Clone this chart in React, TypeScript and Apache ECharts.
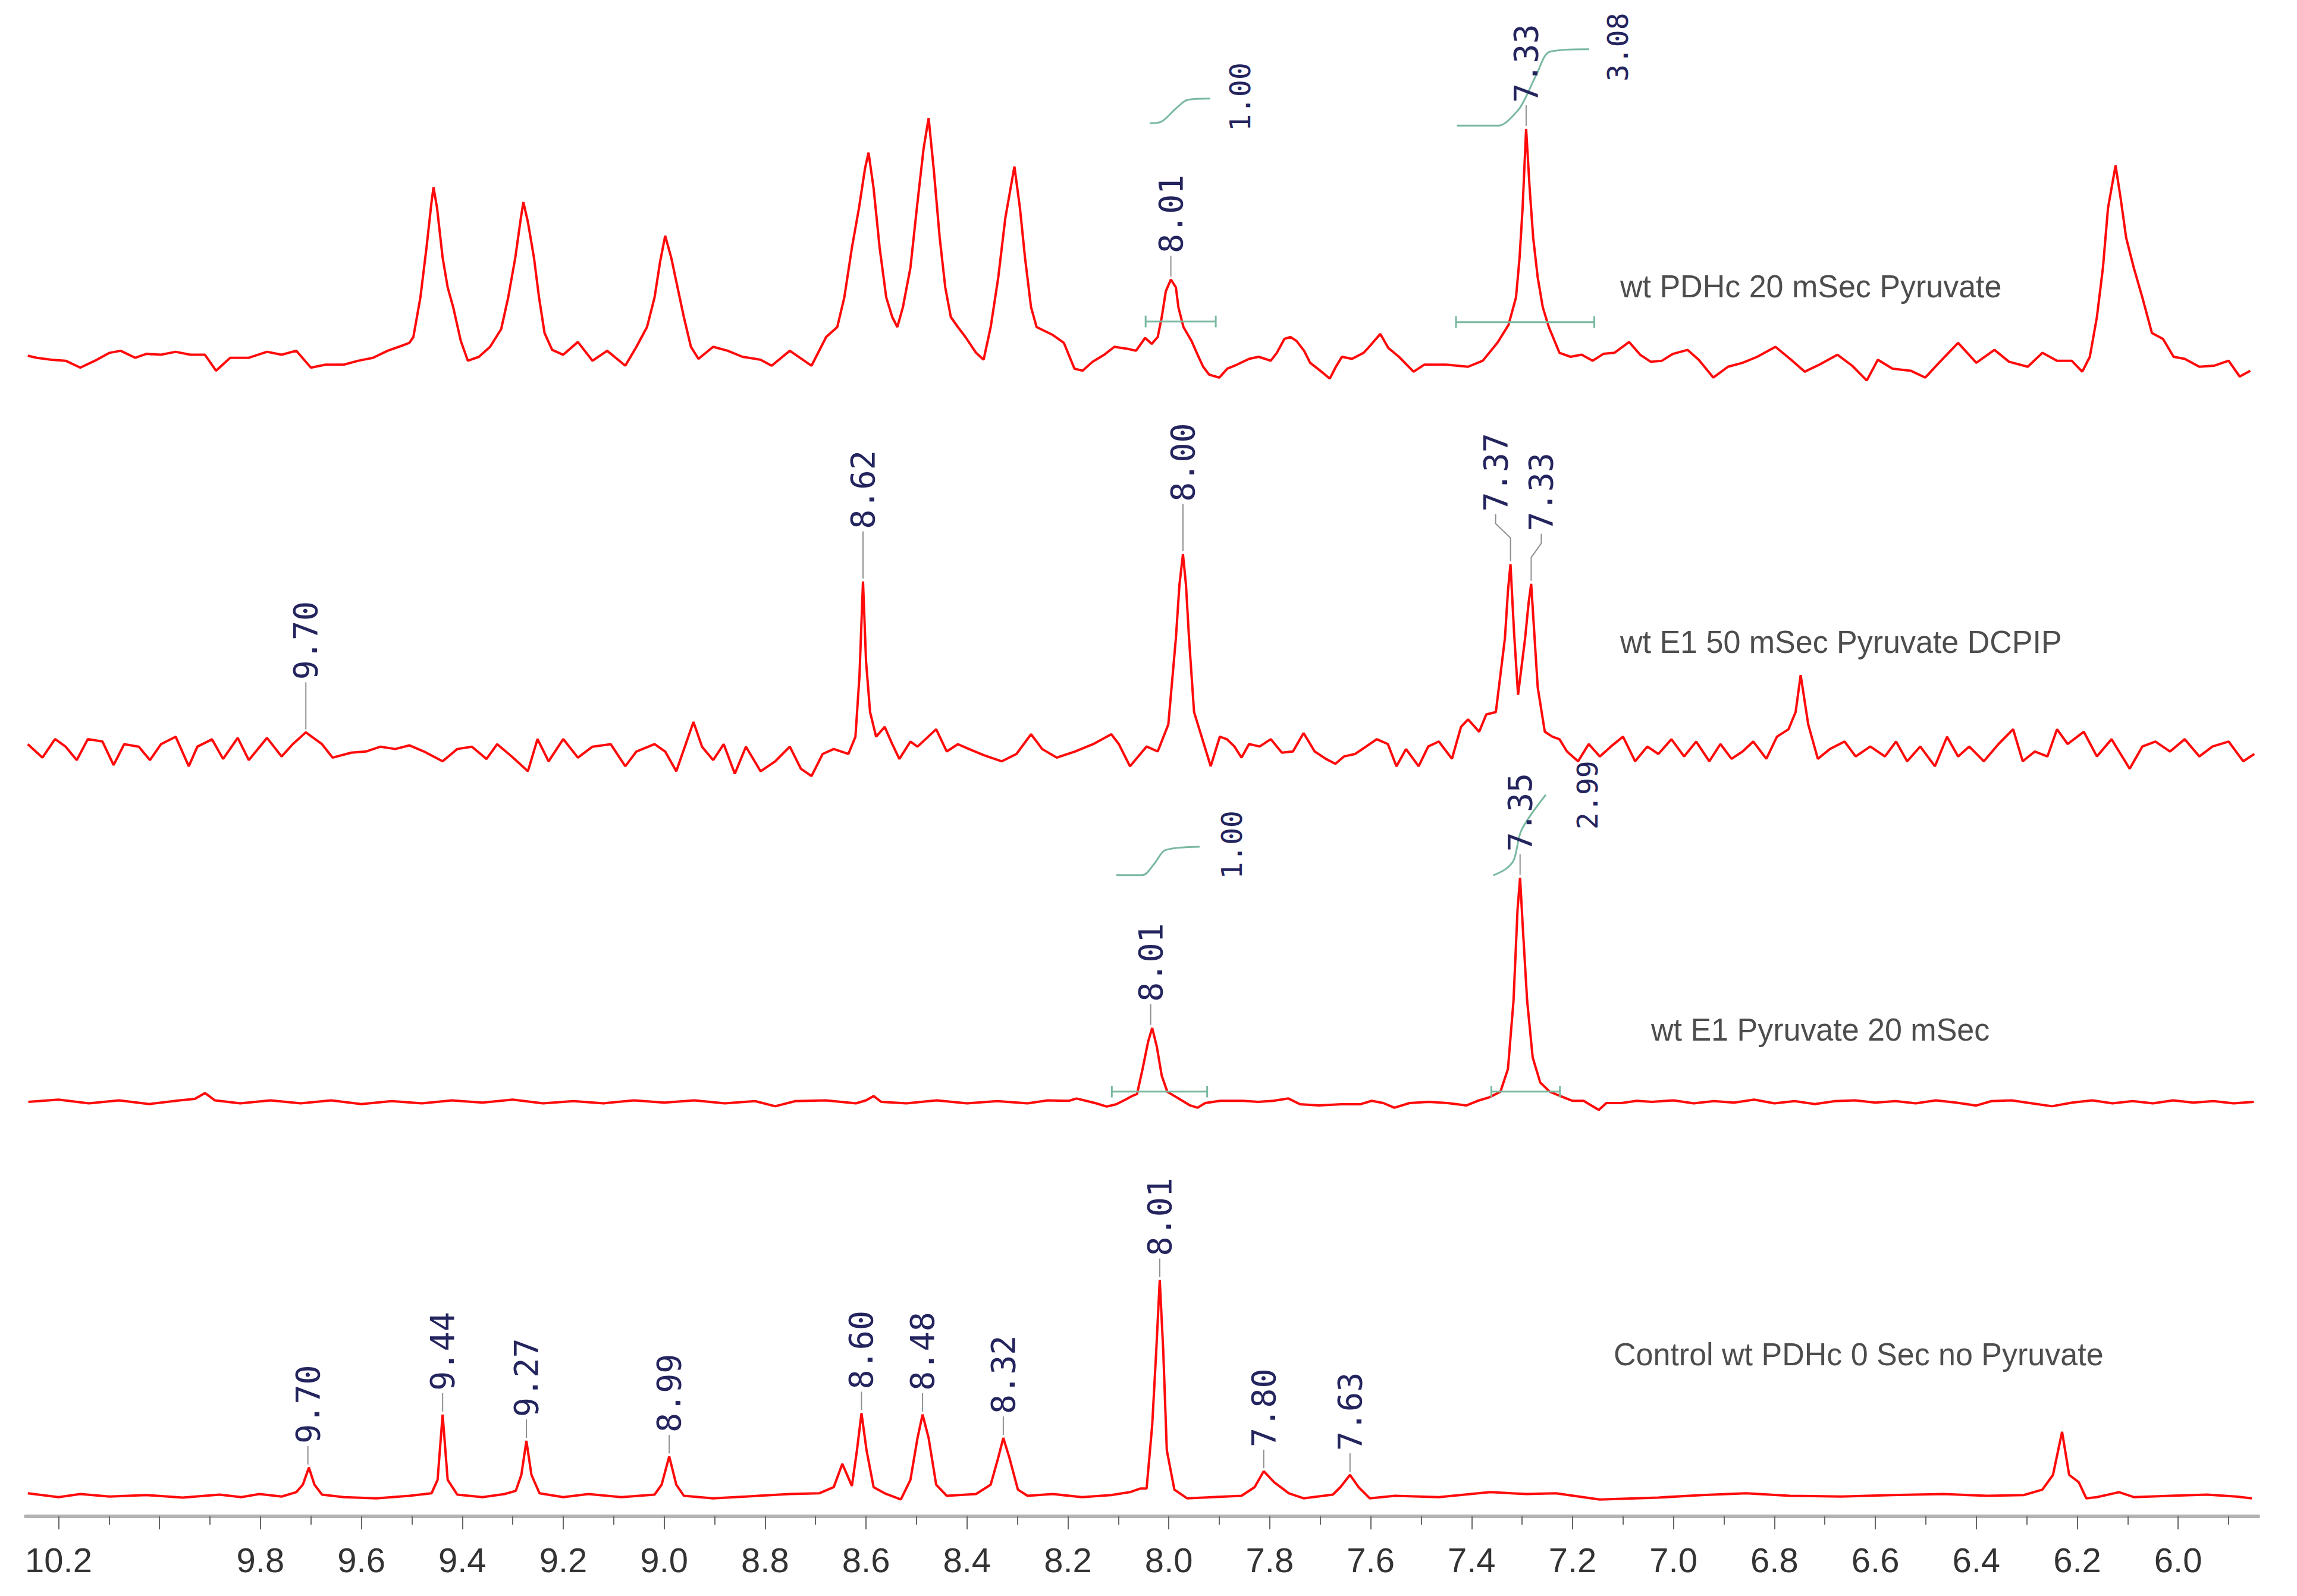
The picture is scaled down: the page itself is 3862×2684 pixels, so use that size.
import React, { useEffect, useRef } from 'react';
import * as echarts from 'echarts';

type Pt = [number, number];
type PeakLabel = [string, number, number]; // text, ppm, peak height

// ---------------- axis ----------------
const PPM_MAX = 10.2654;
const PPM_MIN = 5.8411;
const majorTicks = [10.2, 10.0, 9.8, 9.6, 9.4, 9.2, 9.0, 8.8, 8.6, 8.4, 8.2, 8.0, 7.8, 7.6, 7.4, 7.2, 7.0, 6.8, 6.6, 6.4, 6.2, 6.0];
const minorTicks = [10.1, 9.9, 9.7, 9.5, 9.3, 9.1, 8.9, 8.7, 8.5, 8.3, 8.1, 7.9, 7.7, 7.5, 7.3, 7.1, 6.9, 6.7, 6.5, 6.3, 6.1, 5.9];
const tickLabels = [10.2, 9.8, 9.6, 9.4, 9.2, 9.0, 8.8, 8.6, 8.4, 8.2, 8.0, 7.8, 7.6, 7.4, 7.2, 7.0, 6.8, 6.6, 6.4, 6.2, 6.0];

const traceTitles = [
  'wt PDHc 20 mSec Pyruvate',
  'wt E1 50 mSec Pyruvate DCPIP',
  'wt E1 Pyruvate 20 mSec',
  'Control wt PDHc 0 Sec no Pyruvate',
];

// ---------------- spectra: [ppm, intensity] ----------------
const spectrumPDHc20: Pt[] = [
  [10.261,0.7],[10.243,-0.7],[10.214,-2.0],[10.186,-2.7],[10.157,-7.4],[10.128,-2.7],[10.099,2.7],[10.077,4.1],[10.048,-0.7],[10.026,2.0],[9.997,1.4],[9.968,3.4],[9.939,1.4],[9.910,1.4],[9.888,-9.5],[9.860,-0.7],[9.823,-0.7],[9.787,3.4],[9.758,1.4],[9.729,4.1],[9.700,-7.4],[9.671,-5.4],[9.635,-5.4],[9.606,-2.7],[9.577,-0.7],[9.548,4.1],[9.526,6.8],[9.505,9.5],[9.497,13.5],[9.483,40.6],[9.471,74.4],[9.461,105.6],[9.457,115.7],[9.450,101.5],[9.439,67.7],[9.429,47.4],[9.418,33.8],[9.403,10.8],[9.389,-2.7],[9.367,0],[9.345,6.8],[9.323,18.9],[9.309,40.6],[9.295,67.7],[9.284,94.7],[9.279,105.6],[9.270,92],[9.258,67.7],[9.248,40.6],[9.237,16.2],[9.222,4.7],[9.200,1.4],[9.171,10.1],[9.142,-2.7],[9.113,4.1],[9.077,-6.1],[9.055,6.8],[9.034,20.3],[9.019,40.6],[9.008,65],[8.998,82.6],[8.986,67.7],[8.976,51.4],[8.961,27.1],[8.947,6.8],[8.932,-1.4],[8.903,6.8],[8.874,4.1],[8.845,0],[8.809,-2.0],[8.787,-6.1],[8.751,4.1],[8.708,-6.1],[8.679,13.5],[8.657,20.3],[8.643,40.6],[8.628,74.4],[8.614,101.5],[8.602,128.6],[8.595,139.4],[8.585,115],[8.573,74.4],[8.560,40.6],[8.548,27.1],[8.538,20.3],[8.527,33.8],[8.512,60.9],[8.498,105.6],[8.486,142],[8.476,163],[8.466,128.6],[8.454,81.2],[8.443,47.4],[8.432,27.1],[8.418,20.3],[8.403,13.5],[8.382,2.7],[8.367,-2.0],[8.353,20.3],[8.338,54.1],[8.324,94.7],[8.306,129.9],[8.295,101.5],[8.285,67.7],[8.273,33.8],[8.262,20.3],[8.230,14.9],[8.208,9.5],[8.187,-8.1],[8.171,-9.5],[8.151,-3.4],[8.128,1.4],[8.108,6.8],[8.081,5.4],[8.065,4.1],[8.047,12.9],[8.034,8.8],[8.022,13.5],[8.014,27.1],[8.006,44.7],[7.996,52.8],[7.986,47.4],[7.981,33.8],[7.971,20.3],[7.955,10.8],[7.943,1.4],[7.932,-6.8],[7.920,-12.2],[7.900,-14.2],[7.884,-8.1],[7.865,-5.4],[7.841,-1.4],[7.822,0],[7.798,-2.7],[7.786,2.7],[7.771,12.2],[7.759,13.5],[7.747,10.8],[7.732,4.1],[7.720,-4.1],[7.700,-9.5],[7.681,-14.9],[7.669,-6.8],[7.657,0],[7.637,-1.4],[7.614,2.7],[7.600,8],[7.581,15.6],[7.565,6],[7.544,0],[7.515,-10.2],[7.494,-5.4],[7.450,-5.4],[7.407,-6.8],[7.378,-2.7],[7.349,9.5],[7.327,21.7],[7.312,40.6],[7.305,67.7],[7.299,101.5],[7.292,155.6],[7.285,115],[7.278,81.2],[7.269,54.1],[7.259,33.8],[7.247,20.3],[7.226,2.7],[7.204,0],[7.182,1.4],[7.160,-2.7],[7.139,2.0],[7.117,2.7],[7.088,10.1],[7.066,1.4],[7.045,-3.4],[7.023,-2.7],[7.001,2.0],[6.972,4.7],[6.950,-2.0],[6.921,-14.2],[6.892,-6.8],[6.863,-4.1],[6.834,0],[6.798,6.8],[6.769,-1.4],[6.740,-10.2],[6.711,-5.4],[6.675,1.4],[6.646,-6.1],[6.617,-16.2],[6.595,-2.0],[6.566,-8.1],[6.530,-9.5],[6.501,-14.2],[6.472,-3.4],[6.436,9.5],[6.400,-4.1],[6.364,4.7],[6.335,-3.4],[6.298,-6.8],[6.269,2.7],[6.240,-2.7],[6.211,-2.7],[6.190,-10.2],[6.175,0],[6.161,27.1],[6.149,60.9],[6.139,101.5],[6.124,130.6],[6.114,108.3],[6.103,81.2],[6.088,60.9],[6.071,40.6],[6.052,16.2],[6.030,12.2],[6.009,0],[5.987,-1.4],[5.958,-6.8],[5.929,-6.1],[5.900,-2.7],[5.878,-13.5],[5.857,-9.5],
];

const spectrumE1DCPIP: Pt[] = [
  [10.261,3.3],[10.232,-5.9],[10.207,6.8],[10.186,1.6],[10.164,-7.6],[10.142,6.8],[10.113,5.1],[10.091,-11.0],[10.070,3.3],[10.041,1.6],[10.019,-7.6],[9.997,3.3],[9.968,8.4],[9.942,-11.8],[9.925,1.6],[9.896,6.6],[9.874,-6.8],[9.845,7.6],[9.823,-7.6],[9.787,7.6],[9.758,-5.1],[9.736,3.3],[9.710,11.4],[9.678,3.3],[9.657,-5.9],[9.620,-2.5],[9.591,-1.7],[9.562,1.6],[9.533,0],[9.505,2.5],[9.476,-1.7],[9.439,-8.4],[9.410,0],[9.381,1.6],[9.352,-6.8],[9.331,3.3],[9.302,-5.1],[9.270,-15.2],[9.251,6.8],[9.229,-8.4],[9.200,6.8],[9.171,-5.9],[9.142,1.6],[9.106,3.3],[9.077,-11.8],[9.055,-1.7],[9.019,3.3],[8.998,-1.7],[8.976,-15.2],[8.942,18.5],[8.925,1.6],[8.903,-7.6],[8.882,3.3],[8.860,-16.9],[8.838,1.6],[8.809,-15.2],[8.780,-8.4],[8.751,1.6],[8.729,-13.5],[8.708,-18.5],[8.686,-3.4],[8.664,0],[8.635,-3.4],[8.621,8.4],[8.613,50],[8.606,114.4],[8.600,60],[8.592,25.2],[8.580,8.4],[8.563,15.1],[8.548,3.3],[8.534,-6.8],[8.512,5.1],[8.498,1.6],[8.461,13.5],[8.440,-1.7],[8.418,3.3],[8.396,0],[8.367,-4.2],[8.331,-8.4],[8.302,-3.4],[8.273,10.1],[8.251,0],[8.222,-5.9],[8.186,-1.7],[8.150,3.3],[8.114,10.1],[8.099,3.3],[8.077,-11.8],[8.044,1.7],[8.022,-1.7],[8.001,16.8],[7.986,75.7],[7.979,112],[7.972,133],[7.966,112],[7.960,75.7],[7.950,25.2],[7.935,8.4],[7.917,-11.8],[7.899,8.4],[7.885,6.7],[7.870,1.7],[7.856,-5.9],[7.841,3.4],[7.820,1.7],[7.798,6.7],[7.776,-2.5],[7.754,-1.7],[7.733,10.9],[7.711,-1.7],[7.689,-6.7],[7.670,-10.1],[7.653,-5.1],[7.631,-3.4],[7.609,1.7],[7.588,6.7],[7.566,3.4],[7.549,-11.8],[7.530,0],[7.505,-11.8],[7.486,1.7],[7.465,5.1],[7.439,-6.7],[7.421,15.1],[7.407,20.2],[7.385,11.8],[7.371,23.6],[7.352,25.2],[7.334,75.7],[7.328,108],[7.323,126.2],[7.316,80],[7.308,37],[7.294,75.7],[7.287,100],[7.282,112.8],[7.276,80],[7.269,42],[7.255,11.8],[7.240,8.4],[7.226,6.7],[7.211,-1.7],[7.189,-8.4],[7.168,3.4],[7.146,-5.1],[7.124,1.7],[7.100,8.4],[7.076,-8.4],[7.052,1.7],[7.030,-3.4],[7.004,6.7],[6.979,-5.1],[6.955,5.1],[6.929,-8.4],[6.907,3.4],[6.885,-6.7],[6.863,-1.7],[6.842,5.1],[6.816,-6.7],[6.795,8.4],[6.772,13.5],[6.758,25.2],[6.748,50.5],[6.733,16.8],[6.714,-6.7],[6.690,0],[6.661,5.1],[6.639,-5.1],[6.610,1.7],[6.581,-5.1],[6.559,5.1],[6.537,-8.4],[6.511,1.7],[6.482,-11.8],[6.458,8.4],[6.436,-5.1],[6.414,1.7],[6.385,-8.4],[6.356,3.4],[6.327,13.5],[6.308,-8.4],[6.284,-1.7],[6.259,-5.1],[6.240,13.5],[6.219,3.4],[6.187,11.8],[6.161,-5.1],[6.132,6.7],[6.096,-13.5],[6.071,1.7],[6.045,5.1],[6.016,-1.7],[5.987,6.7],[5.958,-5.1],[5.932,1.7],[5.900,5.1],[5.871,-8.4],[5.849,-3.4],
];

const spectrumE1_20: Pt[] = [
  [10.26,0],[10.20,1.5],[10.14,-1],[10.08,1],[10.02,-1.5],[9.96,1],[9.93,2],[9.91,6],[9.89,1],[9.84,-1],[9.78,1],[9.72,-1],[9.66,1],[9.60,-1.5],[9.54,0.5],[9.48,-1],[9.42,1],[9.36,-0.5],[9.30,1.5],[9.24,-1],[9.18,0.5],[9.12,-1],[9.06,1],[9.00,-0.5],[8.94,1],[8.88,-1],[8.82,0.5],[8.78,-3],[8.74,0.5],[8.68,1],[8.62,-1],[8.60,1],[8.585,4],[8.57,0],[8.52,-1],[8.46,1],[8.40,-1],[8.34,0.5],[8.28,-1],[8.24,1],
  [8.198,0.7],[8.183,2.3],[8.164,0.7],[8.146,-0.8],[8.123,-3.2],[8.104,-1.6],[8.086,1.5],[8.074,3.8],[8.063,5.4],[8.052,22.5],[8.041,41.1],[8.033,50.5],[8.024,38.0],[8.014,17.8],[8.003,6.9],[7.988,3.8],[7.973,0.7],[7.958,-2.4],[7.943,-4.0],[7.928,-0.8],[7.898,0.7],[7.853,0.7],[7.823,0],[7.793,0.7],[7.763,2.3],[7.740,-1.6],[7.703,-2.4],[7.658,-1.6],[7.620,-1.6],[7.598,0.7],[7.575,-0.8],[7.553,-4.0],[7.523,-0.8],[7.485,0],[7.448,-0.8],[7.410,-2.4],[7.388,0.7],[7.365,3.1],[7.343,6.9],[7.328,22.5],[7.317,69.1],[7.309,131.3],[7.304,153.0],[7.298,115.7],[7.290,69.1],[7.279,30.3],[7.264,13.2],[7.245,6.9],[7.223,3.8],[7.200,0.7],[7.178,0.7],[7.163,-2.4],[7.148,-5.5],[7.133,-0.8],[7.103,-0.8],[7.073,0.7],[7.043,0],
  [7.00,1],[6.96,-1],[6.92,0.5],[6.88,-0.5],[6.84,1.5],[6.80,-1],[6.76,0.5],[6.72,-1.5],[6.68,0.5],[6.64,1],[6.60,-0.5],[6.56,0.5],[6.52,-1],[6.48,1],[6.44,-0.5],[6.40,-2.5],[6.37,0.5],[6.33,1],[6.29,-1],[6.25,-3],[6.21,-0.5],[6.17,1],[6.13,-1],[6.09,0.5],[6.05,-1],[6.01,1],[5.97,-0.5],[5.93,0.5],[5.89,-1],[5.85,0],
];

const spectrumControl: Pt[] = [
  [10.261,1.7],[10.200,-0.9],[10.157,1.2],[10.099,-0.5],[10.026,0.5],[9.954,-1.2],[9.881,0.8],[9.838,-0.9],[9.802,1.2],[9.758,-0.5],[9.729,2.5],[9.716,7.6],[9.704,19.3],[9.693,7.6],[9.678,0.8],[9.635,-0.9],[9.570,-1.7],[9.505,0],[9.461,1.7],[9.449,10.9],[9.439,55.5],[9.429,10.9],[9.410,0.8],[9.360,-0.9],[9.316,1.2],[9.294,3.4],[9.283,14.3],[9.273,37.5],[9.263,14.3],[9.247,1.7],[9.200,-0.9],[9.150,1.2],[9.085,-0.9],[9.019,0.8],[9.005,7.6],[8.990,26.9],[8.976,7.6],[8.961,0],[8.903,-1.7],[8.838,-0.5],[8.751,1.2],[8.693,1.7],[8.664,5.9],[8.647,21.8],[8.628,6.7],[8.618,31.1],[8.609,56.4],[8.599,31.1],[8.585,5.9],[8.563,1.7],[8.531,-2.5],[8.512,10.9],[8.498,39.5],[8.488,55.5],[8.476,39.5],[8.461,7.6],[8.440,0],[8.382,1.2],[8.353,7.6],[8.338,26.1],[8.328,39.5],[8.316,26.1],[8.299,4.2],[8.280,0],[8.230,1.2],[8.172,-0.9],[8.114,0.5],[8.077,2.5],[8.056,5.0],[8.044,5.0],[8.033,48],[8.025,98.5],[8.018,147.3],[8.011,98.5],[8.004,31.1],[7.989,4.2],[7.964,-1.7],[7.914,-0.9],[7.856,0],[7.830,5.9],[7.812,16.8],[7.791,9.2],[7.762,1.7],[7.733,-1.7],[7.675,0.8],[7.660,5.9],[7.641,14.3],[7.624,5.9],[7.602,-1.7],[7.552,0],[7.465,-0.9],[7.363,2.5],[7.291,1.2],[7.233,1.7],[7.146,-2.5],[7.030,-1.2],[6.943,0.5],[6.856,1.7],[6.769,0],[6.668,-0.5],[6.566,0.5],[6.465,1.2],[6.378,0],[6.306,0.5],[6.269,4.2],[6.248,14.3],[6.230,43.7],[6.216,14.3],[6.197,9.3],[6.182,-1.7],[6.161,-0.9],[6.117,2.5],[6.088,-0.9],[6.016,0],[5.943,0.8],[5.885,-0.5],[5.854,-1.7],
];

const spectra = [spectrumPDHc20, spectrumE1DCPIP, spectrumE1_20, spectrumControl];

// ---------------- peak picks: [text, ppm, height] ----------------
const peaksPDHc20: PeakLabel[] = [['8.01', 7.996, 52.8], ['7.33', 7.292, 155.6]];
const peaksE1DCPIP: PeakLabel[] = [['9.70', 9.710, 11.4], ['8.62', 8.606, 114.4], ['8.00', 7.972, 133], ['7.37', 7.323, 126.2], ['7.33', 7.282, 112.8]];
const peaksE1_20: PeakLabel[] = [['8.01', 8.036, 50.5], ['7.35', 7.304, 153]];
const peaksControl: PeakLabel[] = [
  ['9.70', 9.706, 19.3], ['9.44', 9.439, 55.5], ['9.27', 9.273, 37.5], ['8.99', 8.990, 26.9], ['8.60', 8.609, 56.4],
  ['8.48', 8.488, 55.5], ['8.32', 8.328, 39.5], ['8.01', 8.018, 147.3], ['7.80', 7.812, 16.8], ['7.63', 7.641, 14.3],
];
const peakSets = [peaksPDHc20, peaksE1DCPIP, peaksE1_20, peaksControl];

// ---------------- integrals ----------------
const integralCurves: { g: number; pts: Pt[] }[] = [
  { g: 0, pts: [[8.038,159.5],[8.016,160.3],[7.986,169.5],[7.963,175.4],[7.918,176.3]] },
  { g: 0, pts: [[7.429,157.8],[7.347,157.8],[7.309,167.9],[7.294,176.3],[7.271,193.1],[7.245,208.3],[7.167,210]] },
  { g: 2, pts: [[8.104,154.8],[8.052,154.8],[8.029,162.5],[8.007,171.9],[7.939,174.2]] },
  { g: 2, pts: [[7.357,154.6],[7.331,159.3],[7.316,165.5],[7.301,185.7],[7.253,209.7]] },
];
const integralRanges: { g: number; from: number; to: number; level: number }[] = [
  { g: 0, from: 8.046, to: 7.907, level: 24.1 },
  { g: 0, from: 7.431, to: 7.157, level: 23.6 },
  { g: 2, from: 8.113, to: 7.924, level: 7 },
  { g: 2, from: 7.361, to: 7.225, level: 7 },
];
const integralValues: { g: number; text: string; ppm: number; at: number }[] = [
  { g: 0, text: '1.00', ppm: 7.859, at: 154 },
  { g: 0, text: '3.08', ppm: 7.110, at: 188 },
  { g: 2, text: '1.00', ppm: 7.875, at: 152 },
  { g: 2, text: '2.99', ppm: 7.171, at: 186 },
];

// ---------------- layout / style ----------------
const W = 3862;
const H = 2684;
const U = 2.463; // px per intensity unit
const GRID_LEFT = 43;
const GRID_WIDTH = 3754;
const BASELINES = [600, 1259.6, 1853, 2515.5];
const AXIS_Y = 2550;
const Y_MAX = 240;
const Y_MIN = -25;
const TITLE_POS: [number, number][] = [[2724, 481], [2724, 1079], [2776, 1731], [2713, 2277]];
const LEADER_UNITS = [17, 35, 17, 15.5];
const LABEL_SHIFT: Record<string, number> = { '1:7.37': -25, '1:7.33': 17 };
const RED = '#ff0a0a';
const GREEN = '#79b9a0';
const NAVY = '#24245e';
const LEADER = '#8f8f8f';
const MONO = '"DejaVu Sans Mono", monospace';
const SANS = '"Liberation Sans", Arial, sans-serif';
const PEAK_FONT = 55;
const INTEGRAL_FONT = 48;

function buildOption() {
  const grids = BASELINES.map((b, i) => {
    const yMin = i === 3 ? -(AXIS_Y - b) / U : Y_MIN;
    return { top: b - Y_MAX * U, height: (Y_MAX - yMin) * U, yMin };
  });

  const xAxes: any[] = grids.map((_, i) => ({
    type: 'value',
    gridIndex: i,
    min: PPM_MIN,
    max: PPM_MAX,
    inverse: true,
    position: 'bottom',
    show: i === 3,
    axisLine: { show: true, onZero: false, lineStyle: { color: '#b3b3b3', width: 6 } },
    axisTick: { show: true, customValues: majorTicks, length: 22, lineStyle: { color: '#666', width: 2 } },
    axisLabel: {
      show: true,
      customValues: tickLabels,
      formatter: (v: number) => v.toFixed(1),
      margin: 44,
      fontSize: 58,
      fontFamily: SANS,
      color: '#333',
    },
    splitLine: { show: false },
  }));
  xAxes.push({
    type: 'value',
    gridIndex: 3,
    min: PPM_MIN,
    max: PPM_MAX,
    inverse: true,
    position: 'bottom',
    axisLine: { show: false, onZero: false },
    axisTick: { show: true, customValues: minorTicks, length: 14, lineStyle: { color: '#666', width: 2 } },
    axisLabel: { show: false },
    splitLine: { show: false },
  });

  const yAxes = grids.map((g, i) => ({
    type: 'value',
    gridIndex: i,
    min: g.yMin,
    max: Y_MAX,
    show: false,
    splitLine: { show: false },
  }));

  const series: any[] = [];

  spectra.forEach((d, i) => {
    series.push({
      type: 'line',
      xAxisIndex: i,
      yAxisIndex: i,
      data: d,
      symbol: 'none',
      showSymbol: false,
      clip: false,
      silent: true,
      z: 3,
      lineStyle: { color: RED, width: 4 },
    });
  });

  integralCurves.forEach((c) => {
    series.push({
      type: 'line',
      xAxisIndex: c.g,
      yAxisIndex: c.g,
      data: c.pts,
      symbol: 'none',
      smooth: 0.3,
      clip: false,
      silent: true,
      z: 4,
      lineStyle: { color: GREEN, width: 3 },
    });
  });

  integralRanges.forEach((r) => {
    const t = 4;
    series.push({
      type: 'line',
      xAxisIndex: r.g,
      yAxisIndex: r.g,
      data: [
        [r.from, r.level - t], [r.from, r.level + t], [r.from, r.level],
        [r.to, r.level], [r.to, r.level + t], [r.to, r.level - t],
      ],
      symbol: 'none',
      clip: false,
      silent: true,
      z: 4,
      lineStyle: { color: GREEN, width: 3 },
    });
  });

  peakSets.forEach((labels, g) => {
    series.push({
      type: 'custom',
      xAxisIndex: g,
      yAxisIndex: g,
      clip: false,
      silent: true,
      z: 5,
      data: labels.map((l) => [l[1], l[2]]),
      renderItem: (params: any, api: any) => {
        const l = labels[params.dataIndex];
        const p = api.coord([l[1], l[2]]);
        const shift = LABEL_SHIFT[`${g}:${l[0]}`] || 0;
        const x0 = p[0];
        const y0 = p[1] - 5;
        const yb = p[1] - LEADER_UNITS[g] * U;
        const lx = x0 + shift;
        const pts = shift === 0
          ? [[x0, y0], [x0, yb + 2]]
          : [[x0, y0], [x0, yb + 42], [lx, yb + 18], [lx, yb + 2]];
        return {
          type: 'group',
          children: [
            { type: 'polyline', shape: { points: pts }, style: { stroke: LEADER, lineWidth: 2, fill: 'none' } },
            {
              type: 'text',
              x: lx,
              y: yb - 2,
              rotation: Math.PI / 2,
              style: { text: l[0], fill: NAVY, fontSize: PEAK_FONT, fontFamily: MONO, align: 'left', verticalAlign: 'middle' },
            },
          ],
        };
      },
    });
  });

  [0, 2].forEach((g) => {
    const items = integralValues.filter((v) => v.g === g);
    series.push({
      type: 'custom',
      xAxisIndex: g,
      yAxisIndex: g,
      clip: false,
      silent: true,
      z: 5,
      data: items.map((v) => [v.ppm, v.at]),
      renderItem: (params: any, api: any) => {
        const v = items[params.dataIndex];
        const p = api.coord([v.ppm, v.at]);
        return {
          type: 'text',
          x: p[0],
          y: p[1],
          rotation: Math.PI / 2,
          style: { text: v.text, fill: NAVY, fontSize: INTEGRAL_FONT, fontFamily: MONO, align: 'left', verticalAlign: 'middle' },
        };
      },
    });
  });

  return {
    animation: false,
    backgroundColor: '#ffffff',
    grid: grids.map((g) => ({ left: GRID_LEFT, width: GRID_WIDTH, top: g.top, height: g.height, containLabel: false })),
    xAxis: xAxes,
    yAxis: yAxes,
    series,
    graphic: traceTitles.map((t, i) => ({
      type: 'text',
      x: TITLE_POS[i][0],
      y: TITLE_POS[i][1],
      scaleX: 0.963,
      silent: true,
      style: { text: t, fontSize: 54, fontFamily: SANS, fill: '#4d4d4d', align: 'left', verticalAlign: 'middle' },
    })),
  };
}

export default function App() {
  const ref = useRef<HTMLDivElement>(null);
  useEffect(() => {
    if (!ref.current) return;
    const chart = echarts.init(ref.current, undefined, { renderer: 'svg' });
    chart.setOption(buildOption() as any);
    return () => chart.dispose();
  }, []);
  return (
    <div
      ref={ref}
      style={{ position: 'absolute', left: 0, top: 0, width: W, height: H, background: '#ffffff' }}
    />
  );
}
